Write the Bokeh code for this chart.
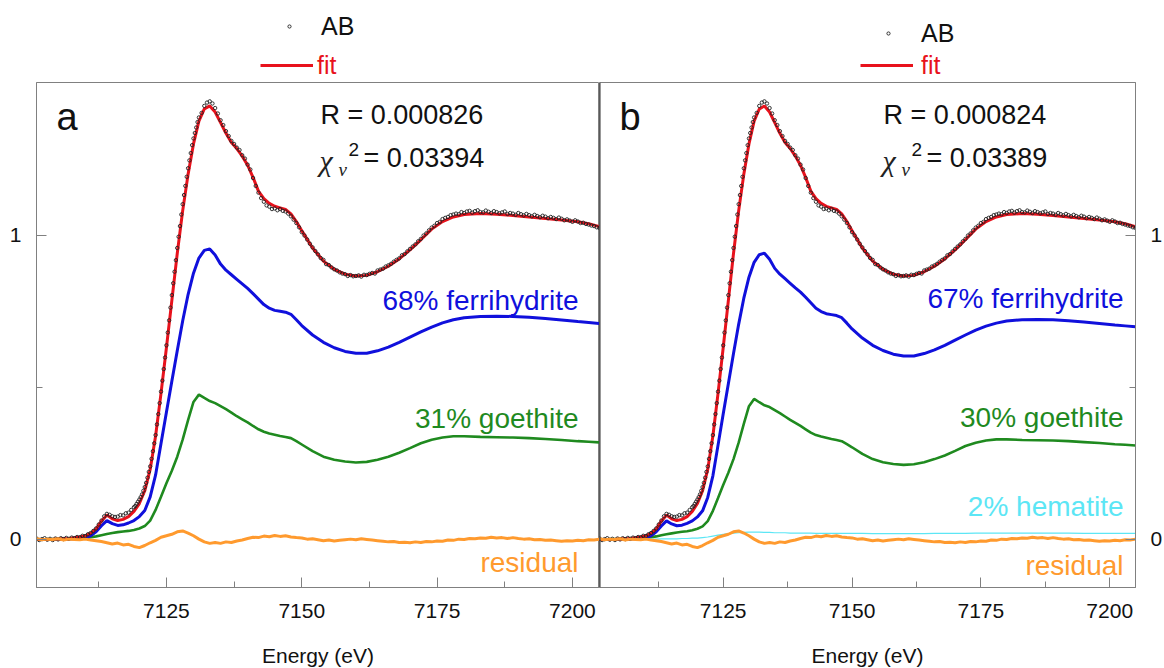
import numpy as np
from bokeh.plotting import figure
from bokeh.models import Range1d, FixedTicker, Label, Legend, LegendItem, Span
from bokeh.layouts import row, column
from bokeh.embed import file_html
from bokeh.resources import INLINE

# ---------------- data ----------------
ENERGY_RANGE = (7101, 7205)
MU_RANGE = (-0.158, 1.502)
X_TICKS = [7125, 7150, 7175, 7200]
X_MINOR_TICKS = [7112.5, 7137.5, 7162.5, 7187.5]
Y_TICKS = [0, 1]
Y_MINOR_TICKS = [0.5]

CURVE_E = [7101, 7104, 7107, 7109,
           7110, 7111, 7112, 7113, 7114, 7115, 7116, 7117, 7118, 7119,
           7120, 7121, 7122, 7123, 7124, 7125, 7126, 7127, 7128, 7129,
           7130, 7131, 7132, 7133, 7134, 7135, 7136, 7137, 7138, 7139,
           7140, 7141, 7142, 7143, 7144, 7145, 7146, 7147, 7148, 7149,
           7150, 7152, 7154, 7156, 7158, 7160, 7162, 7164, 7166, 7168,
           7170, 7172, 7174, 7176, 7178, 7180, 7183, 7186, 7189, 7192,
           7195, 7198, 7201, 7203, 7205]

FIT = [0.000, 0.001, 0.003, 0.008,
       0.012, 0.020, 0.035, 0.060, 0.080, 0.068, 0.062, 0.066, 0.075, 0.092,
       0.118, 0.160, 0.230, 0.340, 0.480, 0.630, 0.785, 0.940, 1.080, 1.200,
       1.300, 1.375, 1.415, 1.425, 1.405, 1.370, 1.335, 1.305, 1.285, 1.260,
       1.230, 1.190, 1.145, 1.120, 1.105, 1.095, 1.090, 1.085, 1.070, 1.045,
       1.015, 0.958, 0.915, 0.888, 0.872, 0.866, 0.868, 0.880, 0.898, 0.922,
       0.952, 0.985, 1.020, 1.045, 1.060, 1.068, 1.071, 1.069, 1.065, 1.060,
       1.055, 1.050, 1.044, 1.038, 1.028]

FERRIHYDRITE_A = [0.000, 0.000, 0.001, 0.004,
                  0.006, 0.012, 0.025, 0.045, 0.062, 0.052, 0.046, 0.048, 0.054, 0.062,
                  0.075, 0.095, 0.140, 0.212, 0.315, 0.418, 0.520, 0.620, 0.718, 0.805,
                  0.875, 0.925, 0.950, 0.955, 0.935, 0.905, 0.885, 0.870, 0.855, 0.840,
                  0.825, 0.808, 0.790, 0.772, 0.760, 0.753, 0.750, 0.747, 0.740, 0.722,
                  0.703, 0.672, 0.648, 0.630, 0.618, 0.612, 0.612, 0.620, 0.632, 0.648,
                  0.665, 0.682, 0.698, 0.712, 0.722, 0.729, 0.733, 0.734, 0.733, 0.730,
                  0.726, 0.721, 0.716, 0.713, 0.710]

GOETHITE_A = [0.000, 0.001, 0.002, 0.003,
              0.004, 0.007, 0.010, 0.014, 0.018, 0.021, 0.024, 0.026, 0.028, 0.031,
              0.036, 0.044, 0.062, 0.097, 0.140, 0.185, 0.226, 0.272, 0.328, 0.392,
              0.452, 0.476, 0.465, 0.455, 0.448, 0.438, 0.428, 0.417, 0.405, 0.395,
              0.385, 0.373, 0.362, 0.354, 0.348, 0.344, 0.340, 0.337, 0.333, 0.323,
              0.312, 0.290, 0.272, 0.262, 0.256, 0.253, 0.255, 0.262, 0.272, 0.285,
              0.300, 0.316, 0.328, 0.335, 0.339, 0.339, 0.337, 0.336, 0.335, 0.333,
              0.330, 0.327, 0.323, 0.321, 0.319]

FERRIHYDRITE_B = [0.000, 0.000, 0.001, 0.004,
                  0.006, 0.012, 0.025, 0.044, 0.061, 0.051, 0.045, 0.047, 0.053, 0.061,
                  0.074, 0.094, 0.138, 0.209, 0.310, 0.412, 0.512, 0.611, 0.707, 0.793,
                  0.862, 0.911, 0.936, 0.941, 0.921, 0.891, 0.872, 0.857, 0.842, 0.827,
                  0.813, 0.796, 0.778, 0.760, 0.749, 0.742, 0.739, 0.736, 0.729, 0.711,
                  0.692, 0.662, 0.638, 0.621, 0.609, 0.603, 0.603, 0.611, 0.623, 0.638,
                  0.655, 0.672, 0.688, 0.701, 0.711, 0.718, 0.722, 0.723, 0.722, 0.719,
                  0.715, 0.710, 0.705, 0.702, 0.699]

GOETHITE_B = [0.000, 0.001, 0.002, 0.003,
              0.004, 0.007, 0.010, 0.014, 0.017, 0.020, 0.023, 0.025, 0.027, 0.030,
              0.035, 0.043, 0.060, 0.094, 0.136, 0.179, 0.219, 0.264, 0.318, 0.380,
              0.438, 0.462, 0.451, 0.441, 0.435, 0.425, 0.415, 0.404, 0.393, 0.383,
              0.373, 0.362, 0.351, 0.343, 0.338, 0.334, 0.330, 0.327, 0.323, 0.313,
              0.303, 0.281, 0.264, 0.254, 0.248, 0.245, 0.247, 0.254, 0.264, 0.276,
              0.291, 0.307, 0.318, 0.325, 0.329, 0.329, 0.327, 0.326, 0.325, 0.323,
              0.320, 0.317, 0.313, 0.311, 0.309]

HEMATITE_B = [0.000, 0.000, 0.000, 0.001,
              0.001, 0.001, 0.001, 0.002, 0.002, 0.002, 0.002, 0.003, 0.003, 0.004,
              0.004, 0.006, 0.008, 0.011, 0.014, 0.017, 0.019, 0.021, 0.022, 0.023,
              0.024, 0.024, 0.024, 0.023, 0.023, 0.022, 0.022, 0.022, 0.021, 0.021,
              0.021, 0.021, 0.021, 0.020, 0.020, 0.020, 0.020, 0.020, 0.020, 0.020,
              0.020, 0.020, 0.019, 0.019, 0.019, 0.019, 0.019, 0.019, 0.020, 0.020,
              0.020, 0.020, 0.021, 0.021, 0.021, 0.021, 0.021, 0.021, 0.021, 0.021,
              0.020, 0.020, 0.020, 0.020, 0.020]

# residual, 1 eV steps from 7101 eV
RESIDUAL_START, RESIDUAL_STEP = 7101, 1.0
RESIDUAL = [0.002, -0.001, 0.001, 0.000, 0.002, -0.002, 0.001, 0.000, -0.001, 0.001,
            -0.002, -0.004, -0.007, -0.011, -0.015, -0.012, -0.018, -0.016, -0.023, -0.027,
            -0.020, -0.011, -0.003, 0.007, 0.012, 0.017, 0.025, 0.028, 0.021, 0.012,
            0.001, -0.008, -0.013, -0.010, -0.013, -0.008, -0.010, -0.005, -0.002, 0.003,
            0.007, 0.006, 0.011, 0.009, 0.013, 0.010, 0.012, 0.008, 0.006, 0.005,
            0.001, 0.002, -0.001, -0.004, -0.002, -0.005, -0.003, -0.001, 0.001, -0.001,
            0.002, 0.000, -0.002, -0.004, -0.006, -0.008, -0.007, -0.010, -0.009, -0.011,
            -0.008, -0.010, -0.007, -0.008, -0.005, -0.006, -0.002, -0.003, 0.001, 0.000,
            0.003, 0.002, 0.005, 0.004, 0.007, 0.005, 0.006, 0.003, 0.006, 0.003,
            0.001, 0.002, -0.001, 0.000, -0.003, -0.002, -0.004, -0.006, -0.004, -0.005,
            -0.003, -0.004, -0.001, -0.002, 0.001]

# measured AB spectrum, in segments of constant step: (start eV, step eV, values)
AB_SEG1 = (7101.0, 0.5, [
    0.003, -0.002, 0.001, 0.004, -0.001, 0.002, -0.002, 0.003, 0.000, 0.004,
    0.001, 0.005, 0.002, 0.006, 0.004, 0.008, 0.007, 0.012, 0.011, 0.017,
    0.021, 0.028, 0.036, 0.049, 0.062, 0.076, 0.084, 0.081, 0.076, 0.074,
    0.075, 0.080, 0.079, 0.086, 0.088, 0.097])
AB_SEG2 = (7119.0, 0.25, [
    0.106, 0.110, 0.117, 0.124, 0.131, 0.139, 0.148, 0.160, 0.172, 0.186,
    0.203, 0.222, 0.240, 0.265, 0.290, 0.316, 0.343, 0.378, 0.412, 0.448,
    0.486, 0.522, 0.560, 0.598, 0.638, 0.680, 0.720, 0.762, 0.803, 0.842,
    0.880, 0.918, 0.958, 0.995, 1.030, 1.068, 1.102, 1.132, 1.162, 1.192,
    1.220, 1.246, 1.270, 1.296, 1.318, 1.336, 1.354, 1.372, 1.387])
AB_SEG3 = (7131.5, 0.5, [
    1.402, 1.425, 1.436, 1.440, 1.433, 1.418, 1.400, 1.378, 1.362, 1.342,
    1.326, 1.310, 1.300, 1.288, 1.280, 1.263, 1.252, 1.232, 1.216, 1.188,
    1.162, 1.140, 1.122, 1.110, 1.098, 1.094, 1.086, 1.088, 1.082, 1.086,
    1.080, 1.078, 1.071, 1.062, 1.051, 1.040, 1.026, 1.010])
AB_SEG4 = (7150.5, 0.5, [
    0.999, 0.986, 0.972, 0.960, 0.948, 0.937, 0.925, 0.919, 0.905, 0.902,
    0.894, 0.888, 0.884, 0.878, 0.874, 0.872, 0.866, 0.869, 0.865, 0.866,
    0.868, 0.864, 0.870, 0.869, 0.873, 0.876, 0.874, 0.884, 0.887, 0.890,
    0.897, 0.901, 0.906, 0.913, 0.919, 0.924, 0.934, 0.938, 0.947, 0.955,
    0.963, 0.970, 0.980, 0.988, 0.999, 1.006, 1.016, 1.025, 1.031, 1.040,
    1.044, 1.053, 1.057, 1.060, 1.066, 1.068, 1.071, 1.069, 1.076, 1.073,
    1.078, 1.080, 1.074, 1.079, 1.082, 1.076, 1.075, 1.081, 1.077, 1.073,
    1.079, 1.076, 1.072, 1.075, 1.078, 1.070, 1.073, 1.071, 1.067, 1.073,
    1.069, 1.065, 1.070, 1.066, 1.062, 1.067, 1.063, 1.059, 1.064, 1.061,
    1.056, 1.060, 1.057, 1.053, 1.058, 1.054, 1.049, 1.052, 1.048, 1.044,
    1.049, 1.045, 1.040, 1.041, 1.037, 1.035, 1.032, 1.030, 1.026, 1.024])

PANEL_A = dict(letter="a", r_text="R = 0.000826", chi_text="= 0.03394",
               labels=[("68% ferrihydrite", "ferri"), ("31% goethite", "goe"), ("residual", "res")])
PANEL_B = dict(letter="b", r_text="R = 0.000824", chi_text="= 0.03389",
               labels=[("67% ferrihydrite", "ferri"), ("30% goethite", "goe"),
                       ("2% hematite", "hem"), ("residual", "res")])

# ---------------- styling ----------------
SANS = "Liberation Sans"
SERIF = "Liberation Serif"
RED = "#e8121c"
BLUE = "#1010dc"
GREEN = "#1f8a1f"
ORANGE = "#ff9a2e"
CYAN = "#5ce6f5"
AXIS_GREY = "#808080"
AB_STYLE = dict(marker="circle", size=3.4, fill_color=None, line_color="#202020", line_width=0.9)
FIT_STYLE = dict(line_color=RED, line_width=3)


def seg_arrays(*segs):
    es, vs = [], []
    for start, step, vals in segs:
        es.append(start + step * np.arange(len(vals)))
        vs.append(np.array(vals, dtype=float))
    return np.concatenate(es), np.concatenate(vs)


AB_E, AB = seg_arrays(AB_SEG1, AB_SEG2, AB_SEG3, AB_SEG4)
RES_E = RESIDUAL_START + RESIDUAL_STEP * np.arange(len(RESIDUAL))


def add_label(p, text, x, y, size, color, font=SANS, align="left", style="normal"):
    p.add_layout(Label(x=x, y=y, x_units="screen", y_units="screen", text=text,
                       text_font=font, text_font_size=f"{size}px", text_color=color,
                       text_align=align, text_baseline="alphabetic",
                       text_font_style=style))


def style_axes(p):
    for ax in p.xaxis:
        ax.ticker = FixedTicker(ticks=X_TICKS, minor_ticks=X_MINOR_TICKS)
        ax.axis_label = "Energy (eV)"
        ax.axis_label_text_font = SANS
        ax.axis_label_text_font_size = "21px"
        ax.axis_label_text_font_style = "normal"
        ax.axis_label_text_color = "#111111"
        ax.axis_label_standoff = 23
        ax.major_label_standoff = 16
    for ax in p.yaxis:
        ax.ticker = FixedTicker(ticks=Y_TICKS, minor_ticks=Y_MINOR_TICKS)
        ax.major_label_standoff = 15
    for ax in p.axis:
        ax.axis_line_color = AXIS_GREY
        ax.major_tick_line_color = AXIS_GREY
        ax.minor_tick_line_color = AXIS_GREY
        ax.major_tick_in = 10
        ax.major_tick_out = 0
        ax.minor_tick_in = 6
        ax.minor_tick_out = 0
        ax.major_label_text_font = SANS
        ax.major_label_text_font_size = "21px"
        ax.major_label_text_color = "#111111"


def build_panel(spec, ferri, goe, hem, frame_w, border_l, border_r, y_side,
                label_x, label_y):
    p = figure(frame_width=frame_w, frame_height=505,
               x_range=Range1d(*ENERGY_RANGE), y_range=Range1d(*MU_RANGE),
               min_border_left=border_l, min_border_right=border_r,
               min_border_top=0, min_border_bottom=81,
               y_axis_location=y_side, output_backend="svg",
               toolbar_location=None, tools="")
    p.grid.visible = False
    p.outline_line_color = AXIS_GREY
    p.outline_line_width = 1
    p.background_fill_color = "white"
    p.border_fill_color = "white"
    style_axes(p)

    p.line(CURVE_E, goe, line_color=GREEN, line_width=2.6)
    p.line(CURVE_E, ferri, line_color=BLUE, line_width=3)
    p.line(CURVE_E, FIT, **FIT_STYLE)
    p.scatter(AB_E, AB, **AB_STYLE)
    if hem is not None:
        p.line(CURVE_E, hem, line_color=CYAN, line_width=1.2)
    p.line(RES_E, RESIDUAL, line_color=ORANGE, line_width=3)

    add_label(p, spec["letter"], 20, 471, 38, "#111111")
    add_label(p, spec["r_text"], 284, 473, 27, "#111111")
    add_label(p, "\u03c7", 283, 427, 30, "#222222", font=SERIF, style="italic")
    add_label(p, "\u03bd", 302, 418, 19, "#222222", font=SERIF, style="italic")
    add_label(p, "2", 312, 438, 19, "#111111")
    add_label(p, spec["chi_text"], 327, 430, 27, "#111111")

    colors = dict(ferri=BLUE, goe=GREEN, hem=CYAN, res=ORANGE)
    for text, key in spec["labels"]:
        add_label(p, text, label_x, label_y[key] + 9, 28, colors[key], align="right")
    return p


# ---------------- legend strip above both panels ----------------
# the key renderers carry the real series, which lie outside this strip's
# ranges, so only their legend glyphs show
top = figure(width=1164, height=82, x_range=Range1d(0, 1), y_range=Range1d(0, 1),
             min_border=0, x_axis_type=None, y_axis_type=None,
             output_backend="svg", toolbar_location=None, tools="")
top.grid.visible = False
top.outline_line_color = None
top.border_fill_color = "white"
top.background_fill_color = "white"
r_ab_key = top.scatter(AB_E, AB, **AB_STYLE)
r_fit_key = top.line(CURVE_E, FIT, **FIT_STYLE)


def add_legend(renderer, label, x, y, color, standoff, glyph_w, glyph_h):
    lg = Legend(items=[LegendItem(label=label, renderers=[renderer])],
                location=(x, y), glyph_width=glyph_w, glyph_height=glyph_h,
                label_standoff=standoff, padding=0, margin=0, spacing=0,
                border_line_alpha=0, background_fill_alpha=0,
                label_text_font=SANS, label_text_font_size="25px",
                label_text_color=color, label_height=30)
    top.add_layout(lg)


add_legend(r_ab_key, "AB", 263, 41, "#111111", 6, 52, 8)
add_legend(r_fit_key, "fit", 260, 2, RED, 4, 53, 30)
add_legend(r_ab_key, "AB", 862, 34, "#111111", 7, 52, 8)
add_legend(r_fit_key, "fit", 860, 2, RED, 8, 53, 30)

pa = build_panel(PANEL_A, FERRIHYDRITE_A, GOETHITE_A, None,
                 563, 36, 0, "left", 542,
                 dict(ferri=278, goe=160, res=16))
pb = build_panel(PANEL_B, FERRIHYDRITE_B, GOETHITE_B, HEMATITE_B,
                 536, 0, 29, "right", 524,
                 dict(ferri=280, goe=161, hem=72, res=13))
pb.add_layout(Span(location=ENERGY_RANGE[0], dimension="height",
                   line_color="#333333", line_width=2))

layout = column(top, row(pa, pb, spacing=0), spacing=0)
open("out.html", "w").write(file_html(layout, INLINE))
